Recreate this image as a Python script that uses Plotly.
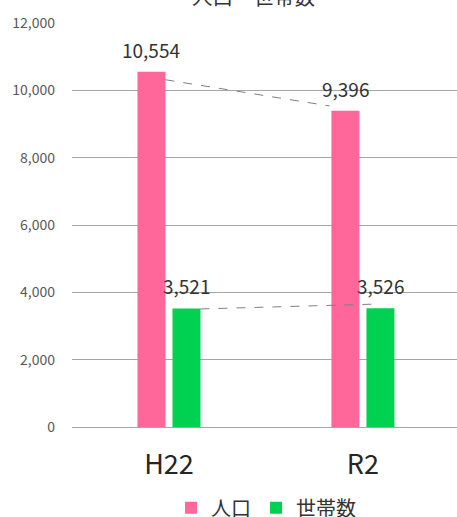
import plotly.graph_objects as go

categories = ["H22", "R2"]
population = [10554, 9396]
households = [3521, 3526]
series_names = ["人口", "世帯数"]
y_ticks = [0, 2000, 4000, 6000, 8000, 10000, 12000]
title_text = "人口・世帯数"

PINK = "#FF6699"
GREEN = "#00D150"
FONT = "Noto Sans CJK JP"

fig = go.Figure()
fig.add_trace(go.Bar(x=categories, y=population, name=series_names[0],
                     marker=dict(color=PINK, line=dict(width=0))))
fig.add_trace(go.Bar(x=categories, y=households, name=series_names[1],
                     marker=dict(color=GREEN, line=dict(width=0))))

# bar center offsets (in category units) for the two-series group
off = 0.0902
half = 0.072
annotations = []
for i in range(len(categories)):
    for vals, sgn in ((population, -1), (households, 1)):
        annotations.append(dict(
            x=i + sgn * off, y=vals[i], xref="x", yref="y",
            text=f"{vals[i]:,}", showarrow=False, yanchor="bottom", yshift=7,
            font=dict(family=FONT, size=19, color="#333333")))

# title (partly cut off at the top, as in the reference)
annotations.append(dict(x=(253.5 - 72) / 385, y=1, xref="paper", yref="paper",
                        text=title_text, showarrow=False, yanchor="middle",
                        yshift=27, font=dict(family=FONT, size=20.5, color="#333333")))

# dashed leader lines between the series' bar tops
shapes = [
    dict(type="line", xref="x", yref="y",
         x0=0 - off + half, y0=population[0] - 240,
         x1=1 - off - half - 0.01, y1=population[1] + 140,
         line=dict(color="#808080", width=1, dash="dash")),
    dict(type="line", xref="x", yref="y",
         x0=0 + off + half, y0=households[0] - 15,
         x1=1 + off - half + 0.05, y1=households[1] + 125,
         line=dict(color="#808080", width=1, dash="dash")),
]

fig.update_layout(
    width=457, height=517,
    margin=dict(l=72, r=0, t=23, b=90, autoexpand=False),
    paper_bgcolor="white", plot_bgcolor="white",
    barmode="group", bargap=0.639, bargroupgap=0.2,
    showlegend=True,
    legend=dict(orientation="h", x=0.504, xanchor="center", y=-0.2, yanchor="middle",
                font=dict(family=FONT, size=20, color="#333333"),
                itemwidth=30, traceorder="normal"),
    annotations=annotations, shapes=shapes,
    font=dict(family=FONT),
)
fig.update_xaxes(range=[-0.5, 1.485], showgrid=False, showline=True,
                 linecolor="#A6A6A6", linewidth=1, ticks="",
                 tickfont=dict(family=FONT, size=27, color="#262626"),
                 ticklabelstandoff=14)
fig.update_yaxes(range=[0, 12000], tickvals=y_ticks, tickformat=",",
                 showgrid=True, gridcolor="#A6A6A6", gridwidth=1,
                 zeroline=True, zerolinecolor="#A6A6A6", zerolinewidth=1,
                 showline=False, ticks="",
                 tickfont=dict(family=FONT, size=14, color="#595959"),
                 ticklabelstandoff=16)

fig.write_html("out.html", config={"displayModeBar": False},
               post_script="document.body.style.margin='0';")
